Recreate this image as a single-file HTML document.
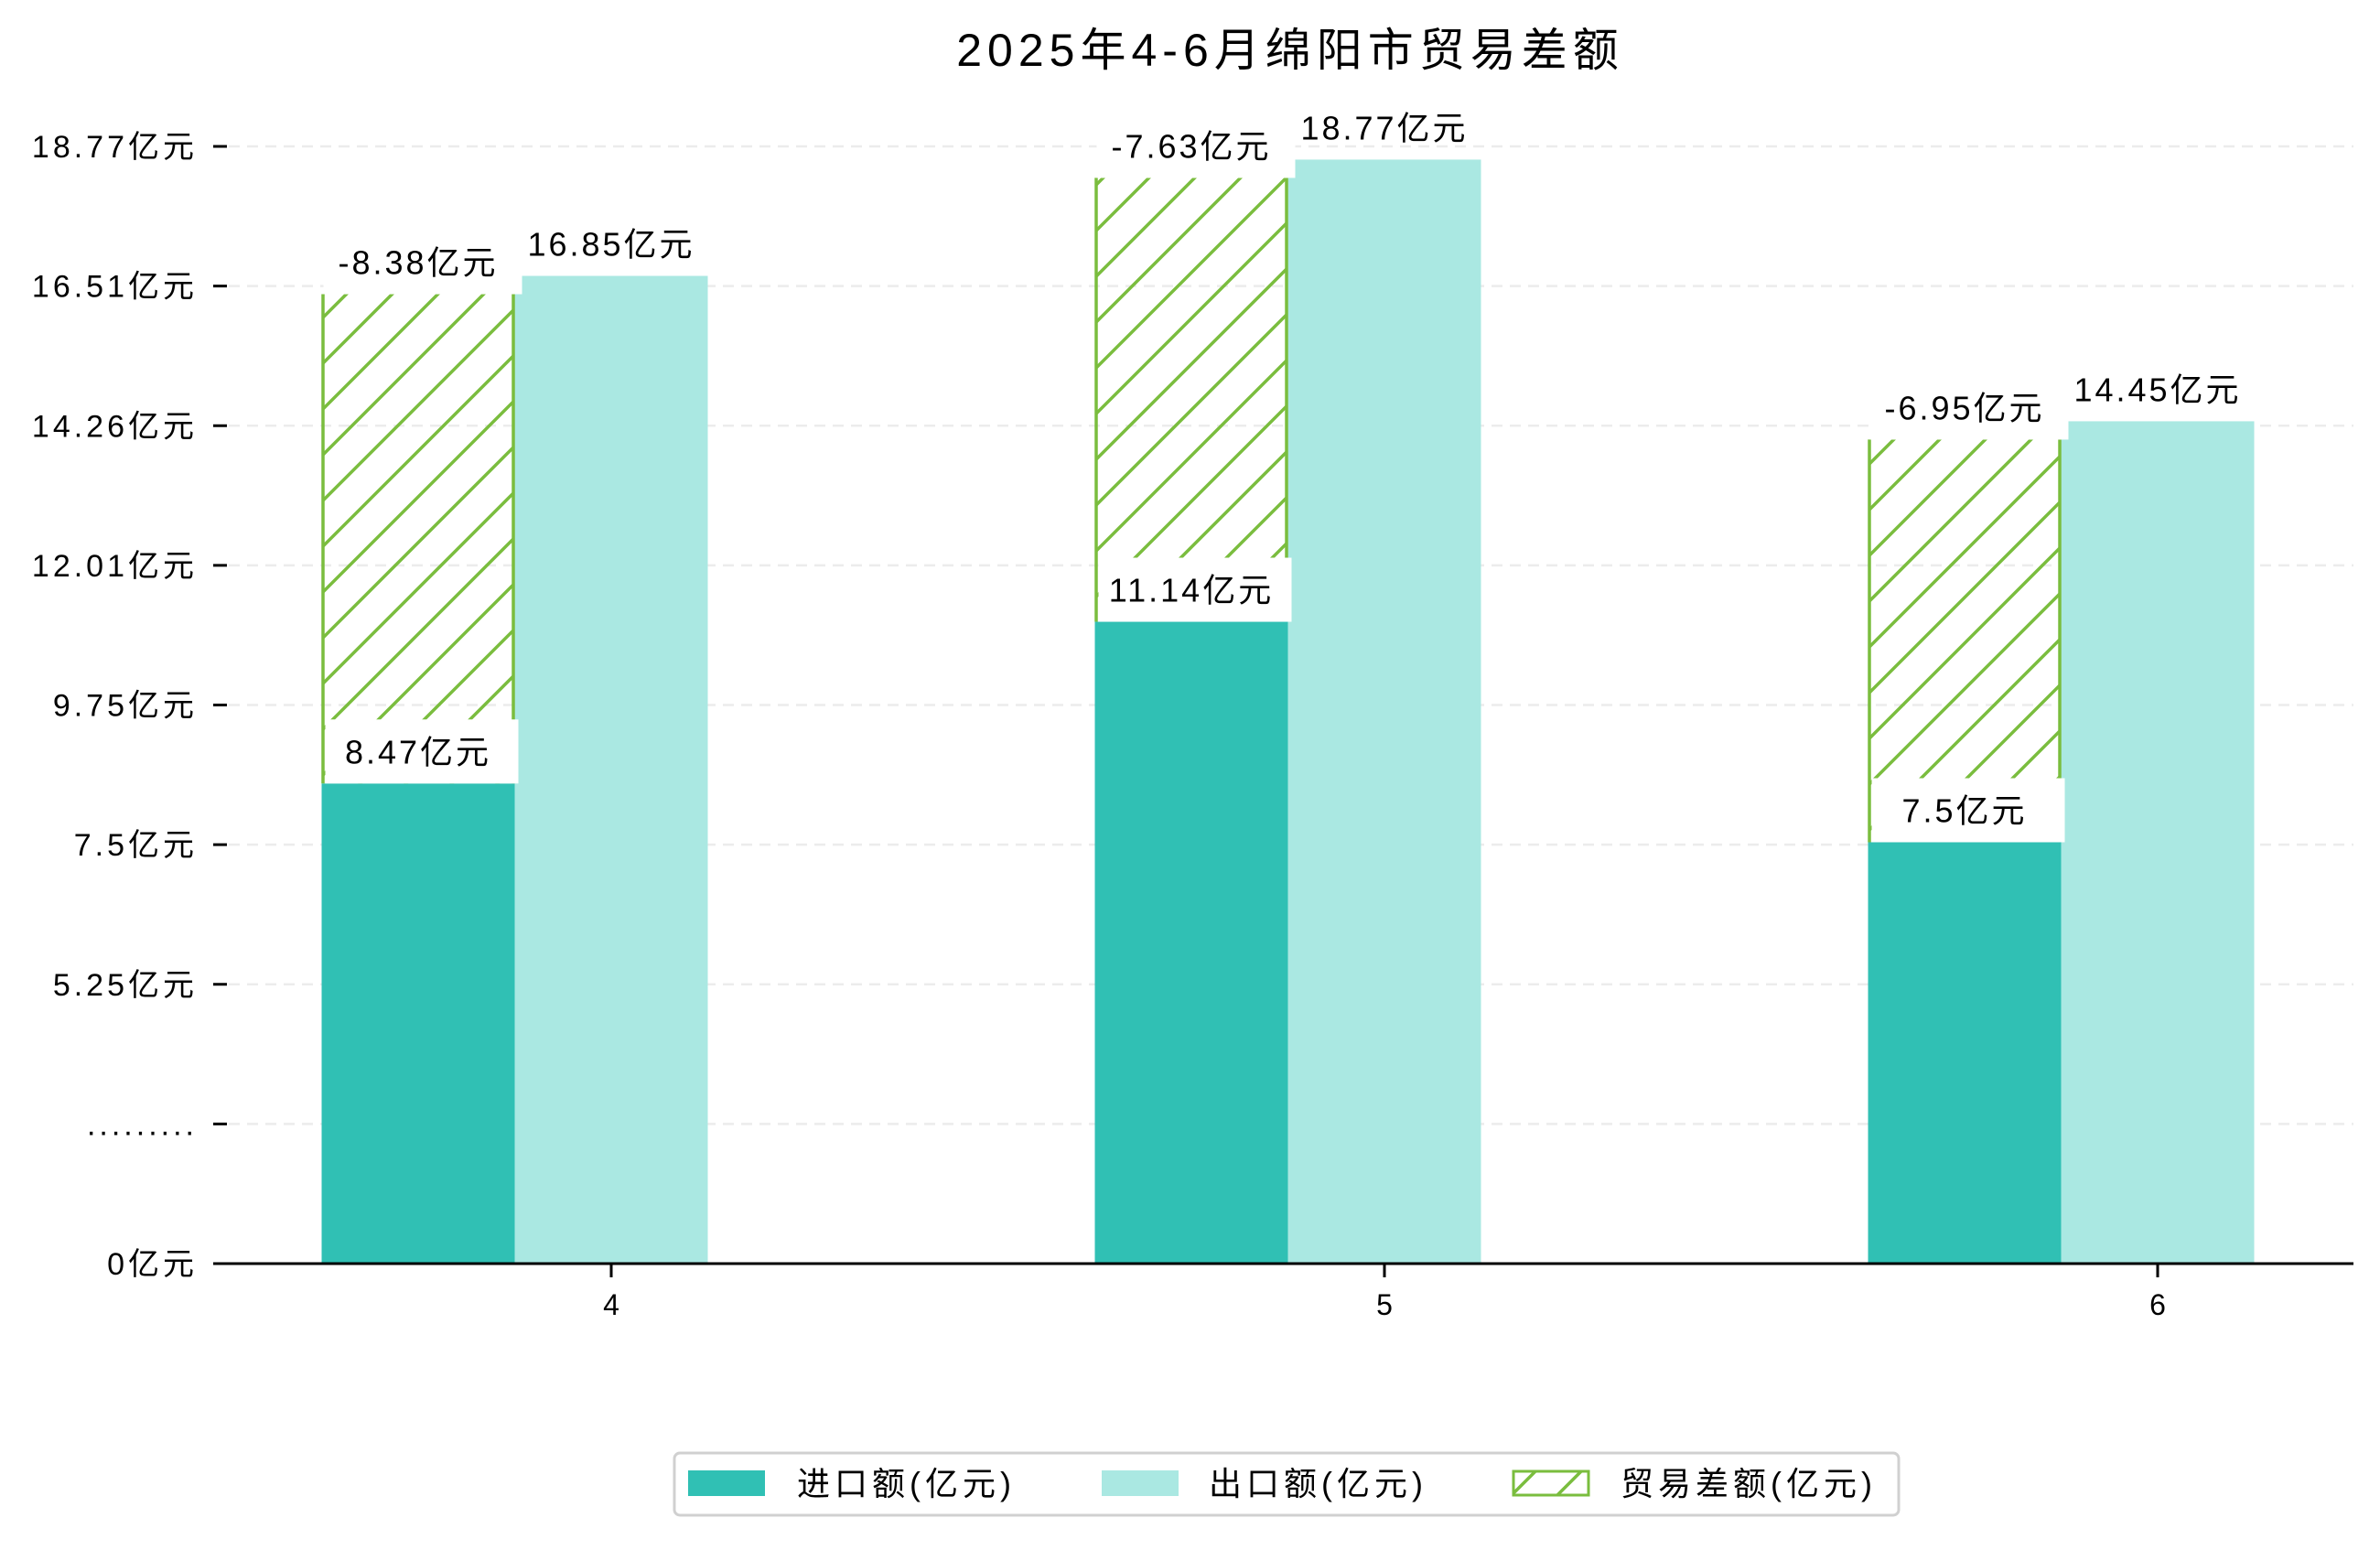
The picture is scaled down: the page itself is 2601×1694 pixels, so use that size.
<!DOCTYPE html>
<html><head><meta charset="utf-8"><style>
html,body{margin:0;padding:0;background:#fff;}
svg text{font-family:"Liberation Sans","Noto Sans CJK SC",sans-serif;}
</style></head><body>
<svg id="chart" width="2601" height="1689" viewBox="0 0 2601 1689" xmlns="http://www.w3.org/2000/svg">
<defs>
<pattern id="hatch" patternUnits="userSpaceOnUse" width="50" height="50">
<path d="M-5,5 L5,-5 M0,50 L50,0 M45,55 L55,45" stroke="#7abd3e" stroke-width="3.5"/>
</pattern>
</defs>
<text x="1410" y="72" font-size="50" letter-spacing="6" text-anchor="middle" fill="#000">2025年4-6月绵阳市贸易差额</text>
<g id="grid"></g>
<g id="bars"></g>
<g id="labels"></g>
<line x1="233" y1="1381" x2="2572" y2="1381" stroke="#000" stroke-width="3"/>
<g id="xticks"></g>
<g transform="translate(-6,-8)">
<rect x="743" y="1596" width="1338" height="68" rx="6" fill="#fff" stroke="#d0d0d0" stroke-width="3"/>
<rect x="758" y="1615" width="84" height="28" fill="#30c0b4"/>
<text x="877" y="1642" font-size="36" letter-spacing="5">进口额(亿元)</text>
<rect x="1210" y="1615" width="84" height="28" fill="#aae8e2"/>
<text x="1327" y="1642" font-size="36" letter-spacing="5">出口额(亿元)</text>
<rect x="1660" y="1616" width="82" height="26" fill="url(#hatch)" stroke="#7abd3e" stroke-width="3"/>
<text x="1777" y="1642" font-size="36" letter-spacing="5">贸易差额(亿元)</text>
</g>
</svg>
<script>
const months = ['4','5','6'];
const importVals = [8.47, 11.14, 7.5];
const exportVals = [16.85, 18.77, 14.45];
const balanceVals = [-8.38, -7.63, -6.95];
const tickLabels = ['0亿元','.........','5.25亿元','7.5亿元','9.75亿元','12.01亿元','14.26亿元','16.51亿元','18.77亿元'];

const NS='http://www.w3.org/2000/svg';
function mk(tag, attrs, parent){const e=document.createElementNS(NS,tag);for(const k in attrs)e.setAttribute(k,attrs[k]);parent.appendChild(e);return e;}
const AXIS=1381;
function xCenter(i){return 668 + i*845;}
function yVal(v){return 1417 - 66.2*v;}
function yTick(i){return AXIS - i*(AXIS-160)/(tickLabels.length-1);}
const BW=211;
const grid=document.getElementById('grid'), bars=document.getElementById('bars'), labels=document.getElementById('labels'), xt=document.getElementById('xticks');

tickLabels.forEach((t,i)=>{
  const y=yTick(i);
  if(i>0){const g=mk('line',{x1:250,y1:y,x2:2572,y2:y,stroke:'#ececec','stroke-width':2.5,'stroke-dasharray':'12,8'},grid);
  
  }
  const tk=mk('line',{x1:233,y1:y,x2:248,y2:y,stroke:'#000','stroke-width':3},grid);
  
  
  const tx=mk('text',{x:216,y:y+12,'font-size':34,'letter-spacing':4,'text-anchor':'end'},grid);
  
  
  tx.textContent=t;
});

months.forEach((m,i)=>{
  const c=xCenter(i);
  const xi=c-1.5*BW, xe=c-0.5*BW;
  const yi=yVal(importVals[i]), ye=yVal(exportVals[i]);
  const yh=yVal(importVals[i]+Math.abs(balanceVals[i]))+20;
  const bi=mk('rect',{x:xi,y:yi,width:BW,height:AXIS-yi,fill:'#30c0b4'},bars);
  
  
  const be=mk('rect',{x:xe,y:ye,width:BW,height:AXIS-ye,fill:'#aae8e2'},bars);
  
  
  const bh=mk('rect',{x:xi,y:yh,width:BW,height:yi-yh,fill:'url(#hatch)'},bars);
  
  
  [xi+1.5, xi+BW-1.5].forEach(xx=>{
    const l=mk('line',{x1:xx,y1:yh,x2:xx,y2:yi,stroke:'#7abd3e','stroke-width':3.5},bars);
    
    
  });
  const lb=mk('rect',{x:xi+4,y:yi-70,width:BW,height:70,fill:'#fff'},labels);
  
  
  const li=mk('text',{x:xi+BW/2,y:yi-22,'font-size':36,'letter-spacing':3,'text-anchor':'middle'},labels);
  
  
  li.textContent=importVals[i]+'亿元';
  const hb=mk('rect',{x:xi+2,y:yh-62,width:BW+6,height:62,fill:'#fff'},labels);
  
  
  const lh=mk('text',{x:xi+BW/2,y:yh-22,'font-size':36,'letter-spacing':3,'text-anchor':'middle'},labels);
  
  
  lh.textContent=balanceVals[i]+'亿元';
  const le=mk('text',{x:xe+BW/2,y:ye-22,'font-size':36,'letter-spacing':3,'text-anchor':'middle'},labels);
  
  
  le.textContent=exportVals[i]+'亿元';
  const t=mk('line',{x1:c,y1:AXIS,x2:c,y2:AXIS+15,stroke:'#000','stroke-width':3},xt);
  
  
  const tl=mk('text',{x:c,y:AXIS+56,'font-size':32,'text-anchor':'middle'},xt);
  
  
  tl.textContent=m;
});
</script>
</body></html>
